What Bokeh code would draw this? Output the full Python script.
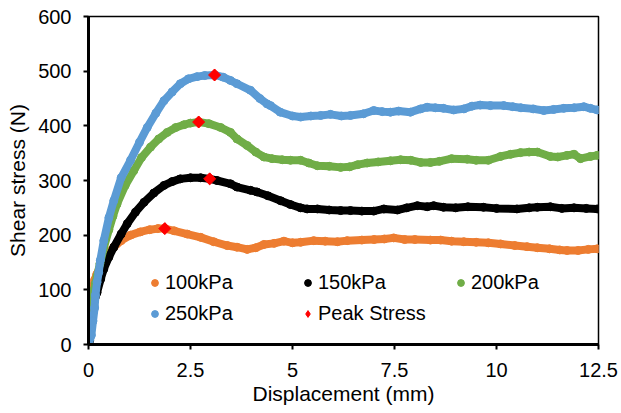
from bokeh.plotting import figure
from bokeh.models import Legend, LegendItem, FixedTicker
from bokeh.embed import file_html
from bokeh.resources import INLINE
import math

# ---------------- data ----------------
x_100 = [0, 0.03, 0.06, 0.1, 0.15, 0.2, 0.3, 0.4, 0.5, 0.62, 0.8, 1.03, 1.27, 1.5, 1.7, 1.87,
         2.1, 2.42, 2.75, 3.07, 3.4, 3.64, 3.89, 4.1, 4.3, 4.55, 4.79, 5.0, 5.2, 5.52, 5.8,
         6.1, 6.34, 6.7, 7.0, 7.25, 7.48, 7.75, 8.0, 8.38, 8.63, 8.9, 9.2, 9.5, 9.8, 10.1,
         10.45, 10.75, 11.0, 11.3, 11.55, 11.73, 12.0, 12.25, 12.47]
y_100 = [0, 35, 70, 100, 118, 128, 145, 158, 168, 178, 190, 200, 206, 210, 212, 212,
         208, 202, 196, 188, 181, 178, 174, 177, 183, 185, 189, 186, 187, 190, 189,
         188, 190, 191, 192, 193, 195, 192, 192, 191, 191, 189, 188, 187, 186, 184,
         181, 179, 177, 175, 173, 172, 172, 174, 175]

x_150 = [0, 0.03, 0.06, 0.09, 0.12, 0.16, 0.21, 0.3, 0.375, 0.5, 0.62, 0.8, 0.95, 1.15, 1.36,
         1.6, 1.85, 2.05, 2.25, 2.5, 2.75, 2.97, 3.15, 3.48, 3.64, 3.97, 4.13, 4.4, 4.71, 4.95,
         5.2, 5.36, 5.61, 5.9, 6.18, 6.42, 6.7, 6.99, 7.24, 7.57, 7.8, 8.06, 8.3, 8.46, 8.7,
         9.0, 9.3, 9.68, 10.0, 10.5, 10.8, 11.0, 11.32, 11.6, 11.9, 12.2, 12.47]
y_150 = [0, 8, 28, 50, 70, 85, 95, 120, 138, 160, 178, 202, 221, 242, 260,
         277, 291, 298, 303, 305, 305, 303, 300, 294, 288, 282, 279, 272, 263, 256,
         250, 248, 248, 246, 245, 245, 244, 244, 248, 246, 250, 254, 252, 254, 251,
         250, 252, 251, 249, 248, 250, 251, 252, 249, 250, 249, 248]

x_200 = [0, 0.03, 0.05, 0.08, 0.11, 0.14, 0.17, 0.21, 0.28, 0.38, 0.5, 0.6, 0.7, 0.9, 1.11,
         1.3, 1.52, 1.72, 1.93, 2.14, 2.34, 2.5, 2.7, 2.95, 3.24, 3.48, 3.64, 3.89, 4.1, 4.3,
         4.5, 4.75, 4.95, 5.2, 5.4, 5.61, 5.9, 6.18, 6.4, 6.6, 6.83, 7.1, 7.4, 7.65, 7.9,
         8.14, 8.38, 8.6, 8.9, 9.28, 9.5, 9.8, 10.1, 10.35, 10.59, 10.8, 11.0, 11.32, 11.5,
         11.73, 11.9, 12.06, 12.3, 12.47]
y_200 = [0, 13, 38, 62, 82, 100, 112, 125, 148, 178, 210, 235, 257, 291, 318,
         342, 361, 376, 388, 397, 402, 405, 407, 404, 397, 388, 376, 364, 352, 343,
         340, 338, 337, 337, 332, 327, 326, 324, 325, 329, 332, 334, 336, 338, 337,
         333, 333, 335, 340, 339, 337, 337, 344, 348, 351, 352, 352, 344, 343,
         346, 348, 340, 344, 346]

x_250 = [0, 0.07, 0.11, 0.15, 0.17, 0.21, 0.25, 0.29, 0.375, 0.5, 0.62, 0.8, 1.03, 1.25, 1.44,
         1.65, 1.85, 2.05, 2.25, 2.45, 2.66, 2.85, 3.09, 3.3, 3.48, 3.64, 3.97, 4.2, 4.38,
         4.46, 4.7, 5.0, 5.2, 5.45, 5.69, 5.93, 6.2, 6.42, 6.74, 6.99, 7.2, 7.4, 7.6, 7.89,
         8.14, 8.3, 8.5, 8.7, 8.95, 9.2, 9.4, 9.6, 9.85, 10.18, 10.4, 10.6, 10.9, 11.16,
         11.4, 11.65, 11.9, 12.14, 12.3, 12.47]
y_250 = [0, 17, 43, 67, 90, 114, 132, 154, 190, 232, 263, 305, 337, 370, 397,
         423, 446, 462, 477, 486, 490, 492, 493, 489, 483, 477, 465, 450, 440,
         437, 425, 418, 416, 418, 419, 421, 418, 419, 422, 428, 426, 425, 427, 425,
         431, 434, 433, 432, 429, 431, 436, 438, 437, 437, 435, 433, 431, 428,
         430, 432, 433, 435, 432, 429]

peak_x = [1.87, 2.97, 2.70, 3.09]
peak_y = [212, 303, 407, 493]

series_names = ["100kPa", "150kPa", "200kPa", "250kPa"]
series_colors = ["#ED7D31", "#000000", "#70AD47", "#5B9BD5"]
peak_name = "Peak Stress"

x_ticks = [0, 2.5, 5, 7.5, 10, 12.5]
x_tick_labels = ["0", "2.5", "5", "7.5", "10", "12.5"]
y_ticks = [0, 100, 200, 300, 400, 500, 600]

FONT = "Liberation Sans"

p = figure(width=621, height=413, x_range=(0, 12.5), y_range=(0, 600),
           output_backend="svg", toolbar_location=None,
           min_border_left=88, min_border_right=23, min_border_top=16, min_border_bottom=69)
p.background_fill_color = "white"
p.border_fill_color = "white"
p.outline_line_color = "black"
p.outline_line_width = 1.5
p.xgrid.visible = False
p.ygrid.visible = False

xs = [x_100, x_150, x_200, x_250]
ys = [y_100, y_150, y_200, y_250]
items = []
for name, col, xv, yv in zip(series_names, series_colors, xs, ys):
    p.line(xv, yv, line_color=col, line_width=8, line_join="round", line_cap="round")
    r = p.scatter(xv, yv, marker="circle", size=8, fill_color=col, line_color=col)
    items.append(LegendItem(label=name, renderers=[r]))

# peak markers: a diamond (used as legend swatch) under a rotated square
pr = p.scatter(peak_x, peak_y, marker="diamond", size=11,
               fill_color="#FF0000", line_color="#FF0000")
p.scatter(peak_x, peak_y, marker="square", size=8.5, angle=math.pi / 4,
          fill_color="#FF0000", line_color="#FF0000")
items.append(LegendItem(label=peak_name, renderers=[pr]))

legend = Legend(items=items, orientation="horizontal", ncols=3, location=(58, 19),
                padding=0, margin=0, spacing=8, glyph_width=17, glyph_height=17,
                label_standoff=2, label_width=126, label_height=20,
                label_text_font=FONT, label_text_font_size="20px", label_text_color="black",
                border_line_color=None, background_fill_alpha=0)
p.add_layout(legend, "center")

for ax in (p.xaxis[0], p.yaxis[0]):
    ax.axis_line_color = "black"
    ax.axis_line_width = 3
    ax.major_tick_line_color = "black"
    ax.major_tick_line_width = 2
    ax.major_tick_out = 5
    ax.major_tick_in = 0
    ax.minor_tick_line_color = None
    ax.major_label_text_font = FONT
    ax.major_label_text_font_size = "20px"
    ax.major_label_text_color = "black"
    ax.axis_label_text_font = FONT
    ax.axis_label_text_font_size = "21px"
    ax.axis_label_text_font_style = "normal"
    ax.axis_label_text_color = "black"

p.xaxis.ticker = FixedTicker(ticks=x_ticks)
p.xaxis.major_label_overrides = {t: l for t, l in zip(x_ticks, x_tick_labels)}
p.yaxis.ticker = FixedTicker(ticks=y_ticks)
p.xaxis.axis_label = "Displacement (mm)"
p.yaxis.axis_label = "Shear stress (N)"
p.xaxis.major_label_standoff = 13
p.yaxis.major_label_standoff = 12
p.xaxis.axis_label_standoff = 2
p.yaxis.axis_label_standoff = 6

open("out.html", "w").write(file_html(p, INLINE))
